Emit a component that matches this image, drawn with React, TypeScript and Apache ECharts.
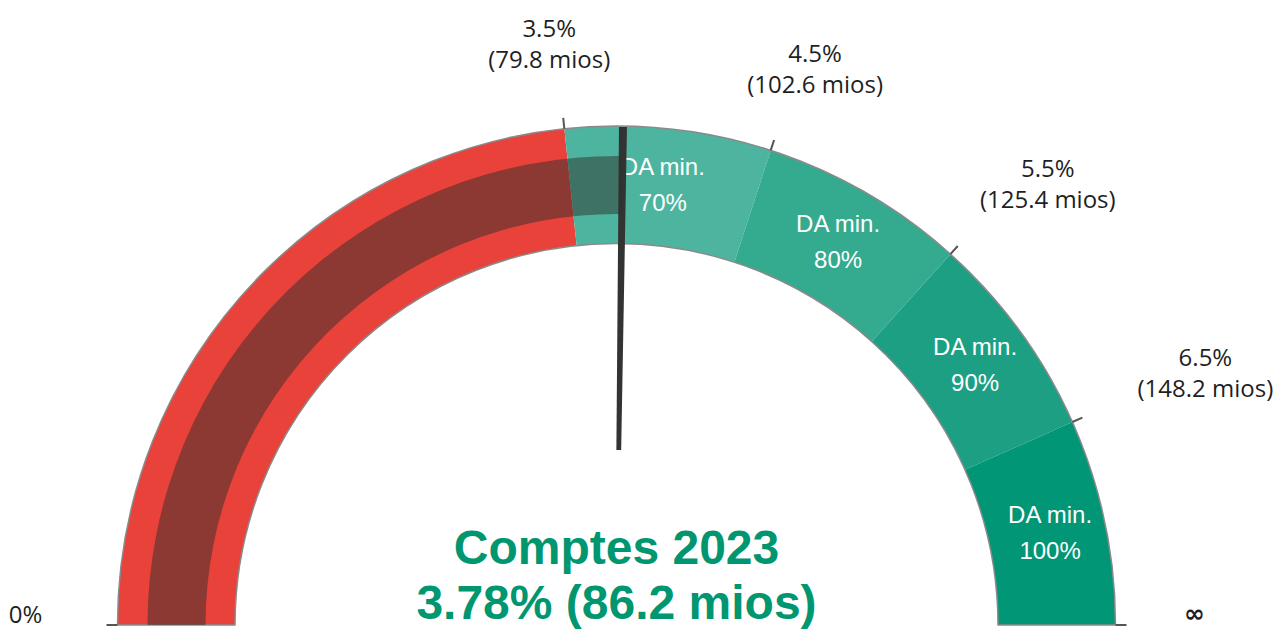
import React, { useEffect, useRef } from "react";
import * as echarts from "echarts";

// ---- data ----
const scaleMin = 0;
const scaleMax = 7.5;
const bandUpper = [3.5, 4.5, 5.5, 6.5, 7.5];
const bandNames = ["", "70%", "80%", "90%", "100%"];
const bandColors = ["#E8423A", "#4DB59F", "#34AA8F", "#1D9F83", "#019676"];
const thresholdValues = [3.5, 4.5, 5.5, 6.5];
const thresholdMios = [79.8, 102.6, 125.4, 148.2];
const endLabels = ["0%", "∞"];
const resultName = "Comptes 2023";
const resultValue = 3.78;
const resultMios = 86.2;

// ---- layout ----
const CX = 616.5;
const CY = 625;
const R_OUT = 499;
const R_IN = 381.5;
const START = 180;
const END = 0;
const thresholdLabelOffsets = [
  [-14, -75],
  [41, -72],
  [90, -63],
  [123, -46],
];
const endLabelRadius = [591, 578];
const endLabelFonts = ["24px 'Open Sans', sans-serif", "bold 25px 'DejaVu Sans', sans-serif"];

const angleOf = (v: number) =>
  START - ((v - scaleMin) / (scaleMax - scaleMin)) * (START - END);
const polar = (v: number, r: number) => {
  const a = (angleOf(v) * Math.PI) / 180;
  return [CX + r * Math.cos(a), CY - r * Math.sin(a)];
};

const labelFont = "'Open Sans', sans-serif";
const arialFont = "'Liberation Sans', Arial, sans-serif";

export default function App() {
  const ref = useRef<HTMLDivElement>(null);
  useEffect(() => {
    if (!ref.current) return;
    const chart = echarts.init(ref.current, null, { renderer: "svg" });

    const bandValues = bandUpper.map((u, i) => u - (i === 0 ? scaleMin : bandUpper[i - 1]));
    const segData: any[] = bandValues.map((v, i) => ({
      name: bandNames[i],
      value: v,
      itemStyle: { color: bandColors[i], borderWidth: 0 },
      label: { show: bandNames[i] !== "" },
    }));
    segData.push({
      name: "hidden",
      value: scaleMax - scaleMin,
      itemStyle: { color: "rgba(0,0,0,0)", borderWidth: 0 },
      label: { show: false },
    });

    const graphics: any[] = [];
    thresholdValues.forEach((v, i) => {
      const [tx, ty] = polar(v, R_OUT + 11);
      graphics.push({
        type: "text",
        x: tx + thresholdLabelOffsets[i][0],
        y: ty + thresholdLabelOffsets[i][1],
        style: {
          text: `${v}%\n(${thresholdMios[i]} mios)`,
          fill: "#1f1f1f",
          font: `24px ${labelFont}`,
          lineHeight: 31,
          align: "center",
          verticalAlign: "middle",
        },
      });
    });
    [scaleMin, scaleMax].forEach((v, i) => {
      const [tx, ty] = polar(v, endLabelRadius[i]);
      graphics.push({
        type: "text",
        x: tx,
        y: ty - 12,
        style: {
          text: endLabels[i],
          fill: "#1f1f1f",
          font: endLabelFonts[i],
          align: "center",
          verticalAlign: "middle",
        },
      });
    });

    const tickGauge = (min: number, max: number, split: number) => ({
      type: "gauge",
      center: [CX, CY],
      radius: R_OUT,
      min,
      max,
      startAngle: angleOf(min),
      endAngle: angleOf(max),
      splitNumber: split,
      axisLine: { show: false, lineStyle: { width: 0 } },
      splitLine: {
        show: true,
        length: 11,
        distance: -11,
        lineStyle: { color: "#555555", width: 2 },
      },
      axisTick: { show: false },
      axisLabel: { show: false },
      pointer: { show: false },
      anchor: { show: false },
      title: { show: false },
      detail: { show: false },
      data: [{ value: min }],
      silent: true,
      z: 5,
    });

    chart.setOption({
      animation: false,
      graphic: graphics,
      series: [
        {
          type: "pie",
          center: [CX, CY],
          radius: [R_IN, R_OUT],
          startAngle: START,
          clockwise: true,
          avoidLabelOverlap: false,
          silent: true,
          emphasis: { disabled: true },
          label: {
            position: "inside",
            formatter: (p: any) => `DA min.\n${p.name}`,
            color: "#ffffff",
            fontFamily: arialFont,
            fontSize: 24,
            lineHeight: 36,
          },
          labelLine: { show: false },
          data: segData,
          z: 1,
        },
        {
          type: "pie",
          center: [CX, CY],
          radius: [R_IN, R_OUT],
          startAngle: START,
          silent: true,
          emphasis: { disabled: true },
          label: { show: false },
          labelLine: { show: false },
          data: [
            {
              value: scaleMax - scaleMin,
              itemStyle: { color: "rgba(0,0,0,0)", borderColor: "#8a8a8a", borderWidth: 1.5 },
            },
            {
              value: scaleMax - scaleMin,
              itemStyle: { color: "rgba(0,0,0,0)", borderWidth: 0 },
            },
          ],
          z: 2,
        },
        {
          type: "gauge",
          center: [CX, CY],
          radius: 469,
          min: scaleMin,
          max: scaleMax,
          startAngle: START,
          endAngle: END,
          progress: {
            show: true,
            overlap: true,
            width: 58,
            roundCap: false,
            itemStyle: { color: "rgba(48,48,44,0.5)" },
          },
          axisLine: { show: false },
          splitLine: { show: false },
          axisTick: { show: false },
          axisLabel: { show: false },
          anchor: { show: false },
          pointer: {
            show: true,
            icon: "path://M0,0 L8,0 L6.4,100 L1.6,100 Z",
            length: 323,
            width: 8,
            offsetCenter: [0, -175],
            itemStyle: { color: "#333333" },
          },
          title: { show: false },
          detail: {
            show: true,
            offsetCenter: [0, -50],
            formatter: (v: number) => `${resultName}\n${v.toFixed(2)}% (${resultMios} mios)`,
            color: "#009670",
            fontFamily: arialFont,
            fontSize: 48,
            fontWeight: "bold",
            lineHeight: 55,
            width: 700,
            padding: 0,
            valueAnimation: false,
          },
          data: [{ value: resultValue, name: resultName }],
          silent: true,
          z: 4,
        },
        tickGauge(scaleMin, scaleMax, 1),
        tickGauge(thresholdValues[0], thresholdValues[thresholdValues.length - 1], thresholdValues.length - 1),
      ],
    });
    return () => chart.dispose();
  }, []);

  return (
    <div
      ref={ref}
      style={{ position: "fixed", left: 0, top: 0, width: 1286, height: 630, background: "#ffffff" }}
    />
  );
}
